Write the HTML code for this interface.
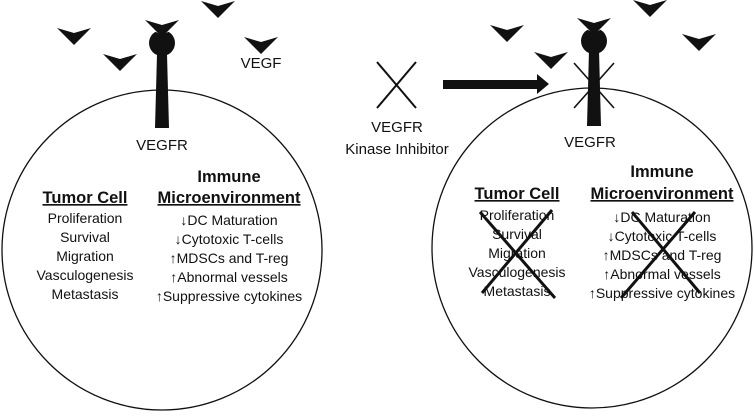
<!DOCTYPE html>
<html><head><style>
body{margin:0;background:#fff}
svg text{font-family:"Liberation Sans",sans-serif;fill:#111}
</style></head><body>
<svg width="755" height="412" viewBox="0 0 755 412" xmlns="http://www.w3.org/2000/svg">
<defs>
<polygon id="ch" points="-17,-8 0,-3 17,-8 0,9" fill="#111"/>
</defs>
<circle cx="162" cy="250" r="160" fill="none" stroke="#111" stroke-width="1.3"/>
<circle cx="592" cy="248" r="160" fill="none" stroke="#111" stroke-width="1.3"/>

<use href="#ch" x="74" y="36"/>
<use href="#ch" x="120" y="62"/>
<use href="#ch" x="218" y="9"/>
<use href="#ch" x="261" y="45"/>
<polygon points="157,54 167,54 169,128 155,128" fill="#111"/>
<circle cx="162" cy="43" r="13" fill="#111"/>
<polygon points="146,27 162,35 178,27 178,20 146,20" fill="#fff"/>
<use href="#ch" x="162" y="28"/>
<text x="261" y="68" font-size="15" text-anchor="middle">VEGF</text>
<text x="162" y="150" font-size="15" text-anchor="middle">VEGFR</text>

<g font-size="14" text-anchor="middle">
<text x="85" y="203" font-size="16.5" font-weight="bold" text-decoration="underline">Tumor Cell</text>
<text x="85" y="223">Proliferation</text>
<text x="85" y="242">Survival</text>
<text x="85" y="261">Migration</text>
<text x="85" y="280">Vasculogenesis</text>
<text x="85" y="299">Metastasis</text>
<text x="229" y="182" font-size="16.5" font-weight="bold">Immune</text>
<text x="229" y="203" font-size="16.5" font-weight="bold" text-decoration="underline">Microenvironment</text>
<text x="229" y="225">↓DC Maturation</text>
<text x="229" y="244">↓Cytotoxic T-cells</text>
<text x="229" y="263">↑MDSCs and T-reg</text>
<text x="229" y="282">↑Abnormal vessels</text>
<text x="229" y="301">↑Suppressive cytokines</text>
</g>

<line x1="377" y1="62" x2="416" y2="108" stroke="#111" stroke-width="2"/>
<line x1="416" y1="62" x2="377" y2="108" stroke="#111" stroke-width="2"/>
<text x="397" y="132" font-size="15" text-anchor="middle">VEGFR</text>
<text x="397" y="154" font-size="15" text-anchor="middle">Kinase Inhibitor</text>
<polygon points="443,80 537,80 537,74 549,84 537,94 537,89 443,89" fill="#111"/>

<use href="#ch" x="507" y="33"/>
<use href="#ch" x="551" y="60"/>
<use href="#ch" x="650" y="8"/>
<use href="#ch" x="699" y="42"/>
<polygon points="589,50 599,50 601,126 587,126" fill="#111"/>
<circle cx="594" cy="41" r="13" fill="#111"/>
<polygon points="578,25 594,33 610,25 610,18 578,18" fill="#fff"/>
<use href="#ch" x="594" y="26"/>
<line x1="574" y1="63" x2="614" y2="108" stroke="#111" stroke-width="1.6"/>
<line x1="614" y1="63" x2="574" y2="108" stroke="#111" stroke-width="1.6"/>
<text x="590" y="147" font-size="15" text-anchor="middle">VEGFR</text>

<g font-size="14" text-anchor="middle">
<text x="517" y="199" font-size="16.5" font-weight="bold" text-decoration="underline">Tumor Cell</text>
<text x="517" y="220">Proliferation</text>
<text x="517" y="239">Survival</text>
<text x="517" y="258">Migration</text>
<text x="517" y="277">Vasculogenesis</text>
<text x="517" y="296">Metastasis</text>
<text x="662" y="177" font-size="16.5" font-weight="bold">Immune</text>
<text x="662" y="199" font-size="16.5" font-weight="bold" text-decoration="underline">Microenvironment</text>
<text x="662" y="222">↓DC Maturation</text>
<text x="662" y="241">↓Cytotoxic T-cells</text>
<text x="662" y="260">↑MDSCs and T-reg</text>
<text x="662" y="279">↑Abnormal vessels</text>
<text x="662" y="298">↑Suppressive cytokines</text>
</g>
<line x1="482" y1="293" x2="552" y2="210" stroke="#111" stroke-width="3"/>
<line x1="480" y1="212" x2="555" y2="298" stroke="#111" stroke-width="3"/>
<line x1="621" y1="298" x2="695" y2="212" stroke="#111" stroke-width="3"/>
<line x1="632" y1="212" x2="700" y2="293" stroke="#111" stroke-width="3"/>
</svg>
</body></html>
